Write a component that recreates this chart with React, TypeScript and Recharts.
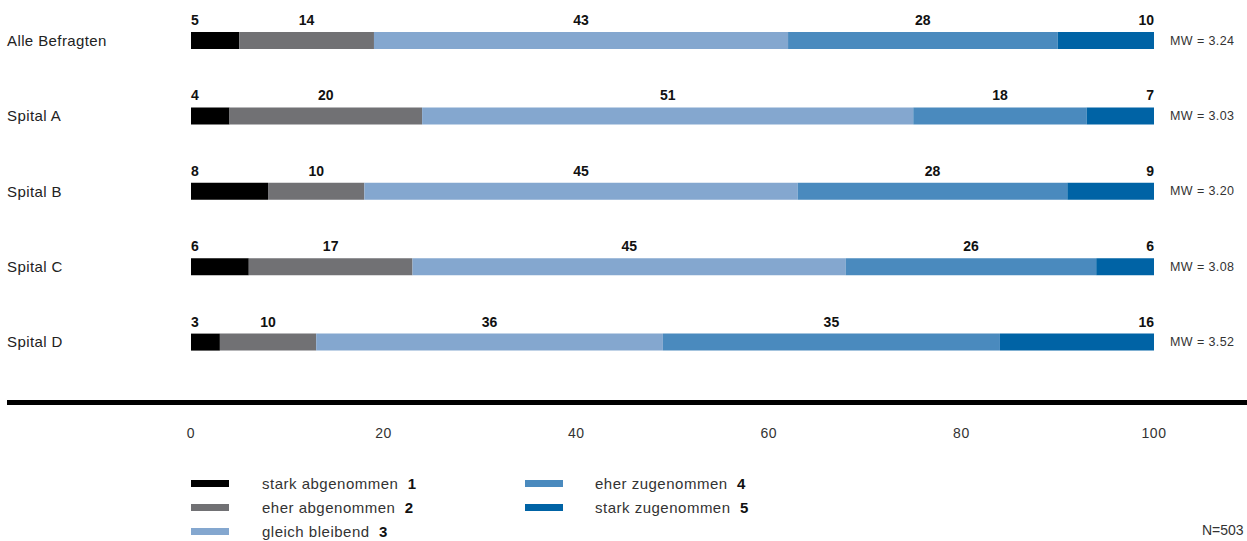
import { BarChart, Bar, XAxis, YAxis, LabelList } from "recharts";

const groups = ["Alle Befragten", "Spital A", "Spital B", "Spital C", "Spital D"];
const starkAb = [5, 4, 8, 6, 3];
const eherAb = [14, 20, 10, 17, 10];
const gleich = [43, 51, 45, 45, 36];
const eherZu = [28, 18, 28, 26, 35];
const starkZu = [10, 7, 9, 6, 16];
const meanValues = ["3.24", "3.03", "3.20", "3.08", "3.52"];
const xTicks = [0, 20, 40, 60, 80, 100];

const series = [
  { key: "s1", name: "stark abgenommen", code: 1, color: "#000000", values: starkAb },
  { key: "s2", name: "eher abgenommen", code: 2, color: "#717174", values: eherAb },
  { key: "s3", name: "gleich bleibend", code: 3, color: "#84a7cf", values: gleich },
  { key: "s4", name: "eher zugenommen", code: 4, color: "#4a8abe", values: eherZu },
  { key: "s5", name: "stark zugenommen", code: 5, color: "#0063a5", values: starkZu },
];

const data = groups.map((g, i) => {
  const row: Record<string, string | number> = { group: g, mw: meanValues[i] };
  series.forEach((s) => (row[s.key] = s.values[i]));
  return row;
});

const FONT = "'Liberation Sans', Arial, Helvetica, sans-serif";

// value label above each segment: first left, last right, rest centred
const segmentLabel = (pos: "start" | "middle" | "end") => (props: any) => {
  const { x, y, width, value } = props;
  const tx = pos === "start" ? x : pos === "end" ? x + width : x + width / 2;
  return (
    <text x={tx} y={y - 7} textAnchor={pos} fontFamily={FONT} fontSize={14}
      fontWeight="bold" fill="#111">
      {value}
    </text>
  );
};

const meanLabel = (props: any) => {
  const { x, y, width, height, index } = props;
  return (
    <text x={x + width + 16} y={y + height / 2 + 4} fontFamily={FONT} fontSize={12.5}
      letterSpacing={0.4} fill="#333">
      MW = {meanValues[index]}
    </text>
  );
};

const GroupTick = (props: any) => {
  const { y, payload } = props;
  return (
    <text x={7} y={y + 5} fontFamily={FONT} fontSize={15} letterSpacing={0.4} fill="#222">
      {payload.value}
    </text>
  );
};

const legendCols = [series.slice(0, 3), series.slice(3)];

export default function App() {
  return (
    <div style={{ position: "absolute", left: 0, top: 0, width: 1247, height: 541, background: "#fff", overflow: "hidden" }}>
      <BarChart width={1247} height={541} data={data} layout="vertical"
        margin={{ top: 3, right: 93, bottom: 101, left: 0 }}>
        <XAxis type="number" domain={[0, 100]} ticks={xTicks} axisLine={false} tickLine={false}
          height={60} tickMargin={42}
          tick={{ fontSize: 14, fill: "#333", fontFamily: FONT, letterSpacing: 0.5 }} />
        <YAxis type="category" dataKey="group" width={191} axisLine={false} tickLine={false}
          tick={<GroupTick />} />
        {series.map((s, i) => (
          <Bar key={s.key} dataKey={s.key} stackId="a" fill={s.color} barSize={17}
            isAnimationActive={false}>
            <LabelList dataKey={s.key}
              content={segmentLabel(i === 0 ? "start" : i === series.length - 1 ? "end" : "middle")} />
            {i === series.length - 1 && <LabelList dataKey="mw" content={meanLabel} />}
          </Bar>
        ))}
      </BarChart>
      <div style={{ position: "absolute", left: 7, top: 400, width: 1240, height: 5, background: "#000" }} />
      {legendCols.map((col, c) => (
        <div key={c} style={{ position: "absolute", left: c === 0 ? 191 : 525, top: 471 }}>
          {col.map((s) => (
            <div key={s.key} style={{ display: "flex", alignItems: "center", height: 24, fontFamily: FONT, fontSize: 15, letterSpacing: 0.5, color: "#333" }}>
              <span style={{ width: 38, height: 7, background: s.color, display: "inline-block" }} />
              <span style={{ marginLeft: c === 0 ? 33 : 32 }}>
                {s.name}&nbsp;&nbsp;<b style={{ color: "#111" }}>{s.code}</b>
              </span>
            </div>
          ))}
        </div>
      ))}
      <div style={{ position: "absolute", left: 1202, top: 522, fontFamily: FONT, fontSize: 14, color: "#333", whiteSpace: "nowrap" }}>
        N=503
      </div>
    </div>
  );
}
